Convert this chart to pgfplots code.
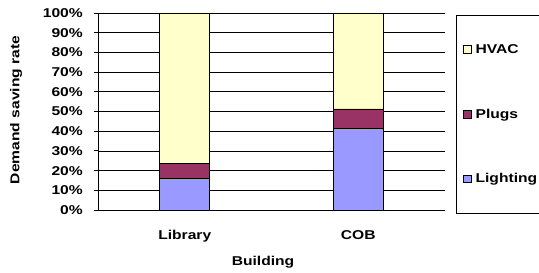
\documentclass[border=0pt]{standalone}
\usepackage{pgfplots}
\pgfplotsset{compat=1.18}
\usepackage{fontspec}
\setmainfont{Liberation Sans}[FakeStretch=1.22]
\definecolor{light}{HTML}{9999FF}
\definecolor{plug}{HTML}{993366}
\definecolor{hvac}{HTML}{FFFFCC}
\begin{document}
\begin{tikzpicture}
\path[use as bounding box] (0,0) rectangle (539bp,273bp);
\clip (0,0) rectangle (539bp,273bp);
\begin{axis}[
 at={(98bp,63bp)}, anchor=south west,
 scale only axis, width=347bp, height=197bp,
 ybar stacked, bar width=0.288,
 xmin=-0.5, xmax=1.5, ymin=0, ymax=100,
 axis x line*=bottom, axis y line*=left,
 axis line style={black, line width=0.8bp},
 ymajorgrids, grid style={black, line width=0.7bp},
 font=\bfseries\fontsize{12.8bp}{15bp}\selectfont,
 ytick={0,10,...,100},
 yticklabels={0\%,10\%,20\%,30\%,40\%,50\%,60\%,70\%,80\%,90\%,100\%},
 tick align=outside, major tick length=4bp,
 tick style={black, line width=0.8bp},
 yticklabel style={anchor=east, inner sep=0pt, xshift=-11bp},
 xtick={0,1}, xticklabels={Library,COB},
 xtick style={draw=none},
 xticklabel style={anchor=base, inner sep=0pt, yshift=-25.5bp},
 extra x ticks={-0.5,0.5,1.5}, extra x tick labels={},
 extra x tick style={xmajorgrids=false, tick style={draw=black, line width=0.8bp}, major tick length=5bp},
 xlabel={Building},
 xlabel style={at={(axis description cs:0.4755,-0.2665)}, anchor=center},
 ylabel={Demand saving rate},
 ylabel style={at={(axis description cs:-0.2363,0.5076)}, anchor=center},
 reverse legend,
 legend cell align=left,
 legend image code/.code={\path (0bp,0bp) (13.6bp,0bp);\draw[#1,draw=black,line width=0.6bp] (4bp,-3.8bp) rectangle (11.6bp,3.8bp);},
 legend style={at={(axis description cs:1.0317,0.99)}, anchor=north west,
   draw=black, line width=0.8bp, fill=white, inner xsep=3bp, inner ysep=27bp, row sep=50bp,
   font=\bfseries\fontsize{12.8bp}{15bp}\selectfont},
]
\addplot[fill=light, draw=black, line width=0.6bp] coordinates {(0,16) (1,41.5)};
\addlegendentry{Lighting}
\addplot[fill=plug, draw=black, line width=0.6bp] coordinates {(0,7.7) (1,9.8)};
\addlegendentry{Plugs}
\addplot[fill=hvac, draw=black, line width=0.6bp] coordinates {(0,76.3) (1,48.7)};
\addlegendentry{HVAC}
\end{axis}
\end{tikzpicture}
\end{document}
